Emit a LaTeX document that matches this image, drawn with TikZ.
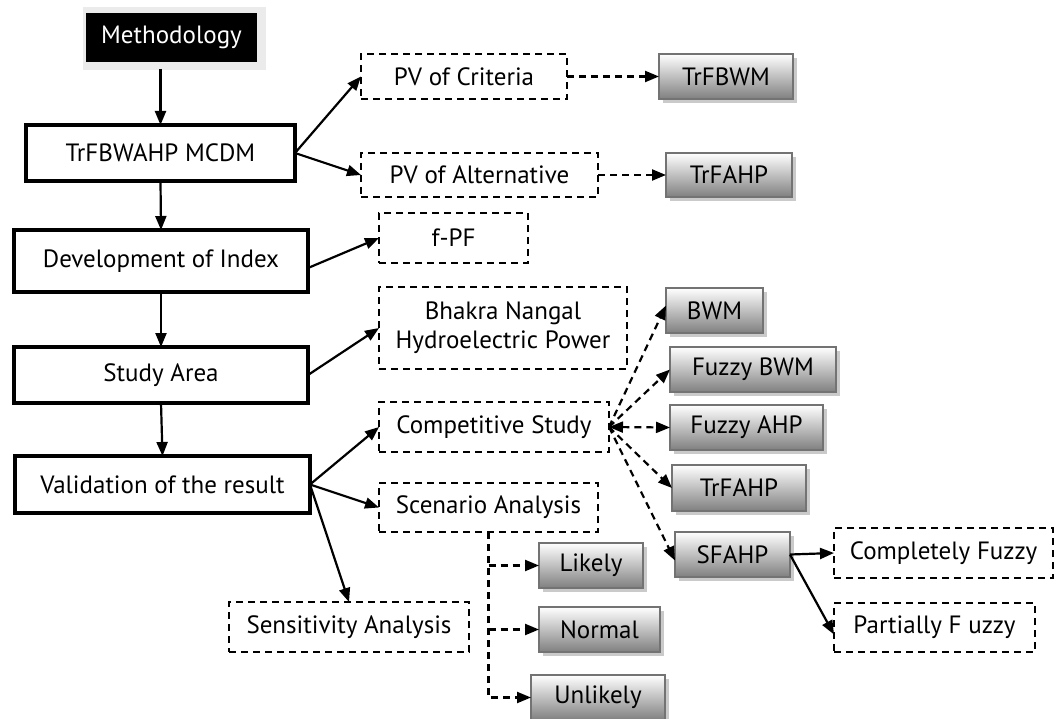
\documentclass[tikz,border=0pt]{standalone}
\usepackage{fontspec}
\setmainfont{PT Sans}
\usetikzlibrary{arrows.meta,positioning,shadows}
\tikzset{font=\fontsize{25}{29}\selectfont}
\tikzset{every node/.append style={inner sep=0pt,outer sep=0pt}}
\tikzset{
  mainbox/.style={draw,line width=4.5pt},
  dashbox/.style={draw,line width=2.2pt,dash pattern=on 7pt off 5pt,align=center},
  graybox/.style={draw=black!55,line width=1.8pt,top color=white,bottom color=black!50,
    drop shadow={shadow xshift=4pt,shadow yshift=-4pt,fill=black!35,opacity=.6}},
  tip/.style={-{Triangle[length=14pt,width=11pt]},line width=2.2pt},
  dtip/.style={tip,dash pattern=on 7pt off 5pt},
}

\begin{document}
\begin{tikzpicture}[x=1pt,y=-1pt]
  \useasboundingbox (0,0) rectangle (1064,719);
  % left column
  \node[fill=black!8,minimum width=183,minimum height=63] at (174,38.5) {};
  \node[fill=black,text=white,minimum width=171,minimum height=49] (meth) at (171.5,37.5) {Methodology};
  \node[mainbox,minimum width=269,minimum height=56] (mcdm) at (160.5,153) {TrFBWAHP MCDM};
  \node[mainbox,minimum width=294,minimum height=62] (dev) at (161,261) {Development of Index};
  \node[mainbox,minimum width=294,minimum height=56] (area) at (161,375) {Study Area};
  \node[mainbox,minimum width=295,minimum height=57] (valid) at (162.5,484.5) {Validation of the result};
  % dashed boxes
  \node[dashbox,minimum width=206,minimum height=45] (pvc) at (464,76.5) {PV of Criteria};
  \node[dashbox,minimum width=237,minimum height=44] (pva) at (479.5,175) {PV of Alternative};
  \node[dashbox,minimum width=149,minimum height=50] (fpf) at (453.5,238) {f-PF};
  \node[dashbox,minimum width=248,minimum height=82] (bhakra) at (503,328) {Bhakra Nangal\\Hydroelectric Power};
  \node[dashbox,minimum width=230,minimum height=50] (comp) at (494,427) {Competitive Study};
  \node[dashbox,minimum width=219,minimum height=49] (scen) at (488.5,507.5) {Scenario Analysis};
  \node[dashbox,minimum width=240,minimum height=50] (sens) at (349,627) {Sensitivity Analysis};
  \node[dashbox,minimum width=219,minimum height=50] (compf) at (943.5,553) {Completely Fuzzy};
  \node[dashbox,minimum width=201,minimum height=49] (partf) at (934.5,627.5) {Partially F uzzy};
  % gray boxes
  \node[graybox,minimum width=134,minimum height=45] (trfbwm) at (726,76.5) {TrFBWM};
  \node[graybox,minimum width=126,minimum height=44] (trfahpa) at (729,175) {TrFAHP};
  \node[graybox,minimum width=97,minimum height=45] (bwm) at (714.5,310.5) {BWM};
  \node[graybox,minimum width=166,minimum height=45] (fbwm) at (753,369.5) {Fuzzy BWM};
  \node[graybox,minimum width=153,minimum height=45] (fahp) at (746.5,427.5) {Fuzzy AHP};
  \node[graybox,minimum width=134,minimum height=46] (trfahpb) at (739,488) {TrFAHP};
  \node[graybox,minimum width=115,minimum height=45] (sfahp) at (732.5,554.5) {SFAHP};
  \node[graybox,minimum width=104,minimum height=45] (likely) at (591,565.5) {Likely};
  \node[graybox,minimum width=121,minimum height=45] (normal) at (599.5,629.5) {Normal};
  \node[graybox,minimum width=134,minimum height=45] (unlikely) at (598,697.5) {Unlikely};

  \draw[tip] (mcdm.north |- 0,69) -- (mcdm.north);
  \draw[tip] (mcdm.south) -- (dev.north);
  \draw[tip] (dev.south) -- (area.north);
  \draw[tip] (area.south) -- (valid.north);
  \draw[tip] (mcdm.east) -- (pvc.west);
  \draw[tip] (mcdm.east) -- (pva.west);
  \draw[tip] ([yshift=-7pt]dev.east) -- (fpf.west);
  \draw[tip] (area.east) -- (bhakra.west);
  \draw[tip] (valid.east) -- (comp.west);
  \draw[tip] (valid.east) -- (scen.west);
  \draw[tip] (valid.east) -- (sens.north);
  \draw[tip] (sfahp.east) -- (compf.west);
  \draw[tip] (sfahp.east) -- ([yshift=-7pt]partf.west);
  \draw[dtip] (pvc.east) -- (trfbwm.west);
  \draw[dtip] (pva.east) -- (trfahpa.west);
  \draw[dtip] (comp.east) -- ([yshift=5pt]bwm.west);
  \draw[dtip] (comp.east) -- (fbwm.west);
  \draw[dtip,{Triangle[length=14pt,width=11pt]}-{Triangle[length=14pt,width=11pt]}] (comp.east) -- (fahp.west);
  \draw[dtip] (comp.east) -- (trfahpb.west);
  \draw[dtip] (comp.east) -- ([yshift=-6pt]sfahp.west);
% scenario branches
  \draw[dtip] (scen.south) |- (unlikely.west);
  \draw[dtip] (scen.south |- likely.west) -- (likely.west);
  \draw[dtip] (scen.south |- normal.west) -- (normal.west);
\end{tikzpicture}
\end{document}
